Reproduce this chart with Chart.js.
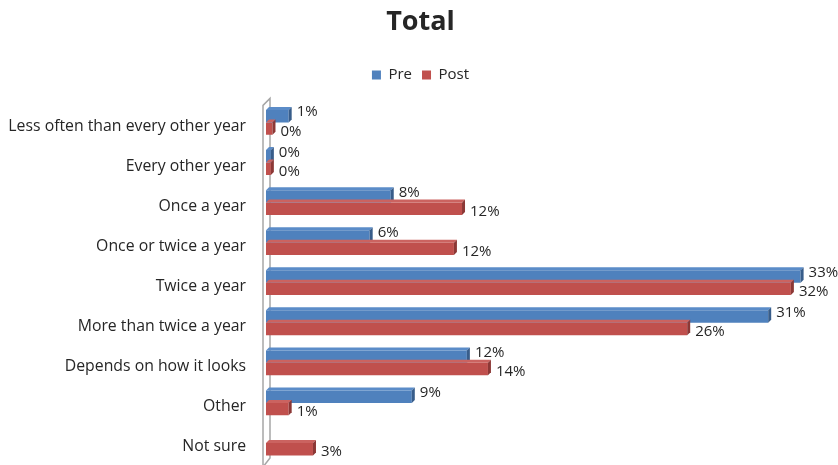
<!DOCTYPE html>
<html>
<head>
    <meta charset="UTF-8">
    <title>Total</title>
    <script src="https://cdn.jsdelivr.net/npm/chart.js"></script>
    <style>
        html, body { margin: 0; padding: 0; background: #fff; overflow: hidden; }
        #wrap { position: relative; width: 838px; height: 465px; }
    </style>
</head>
<body>
    <div id="wrap">
        <canvas id="barChart"></canvas>
    </div>

    <script>
        // chart data
        var categories = [
            'Less often than every other year',
            'Every other year',
            'Once a year',
            'Once or twice a year',
            'Twice a year',
            'More than twice a year',
            'Depends on how it looks',
            'Other',
            'Not sure'
        ];
        var preValues = [1.4, 0.3, 7.7, 6.4, 33.0, 31.0, 12.4, 9.0, 0];
        var postValues = [0.4, 0.3, 12.1, 11.6, 32.4, 26.0, 13.7, 1.4, 2.9];
        var seriesNames = ['Pre', 'Post'];

        var FONT = "'Open Sans', sans-serif";

        // fake 3D depth on the bars + value labels
        var bar3d = {
            id: 'bar3d',
            afterDatasetsDraw: function (chart) {
                var ctx = chart.ctx;
                var dark = ['#385D8A', '#8C3836'];
                var top = ['#5B8CC8', '#CB6360'];
                var d = 3;
                chart.data.datasets.forEach(function (ds, di) {
                    chart.getDatasetMeta(di).data.forEach(function (bar, i) {
                        var v = ds.data[i];
                        if (!v) return;
                        var x0 = bar.base, x1 = bar.x;
                        var y0 = bar.y - bar.height / 2, y1 = bar.y + bar.height / 2;
                        ctx.save();
                        // top face
                        ctx.fillStyle = top[di];
                        ctx.beginPath();
                        ctx.moveTo(x0, y0);
                        ctx.lineTo(x0 + d, y0 - d);
                        ctx.lineTo(x1 + d, y0 - d);
                        ctx.lineTo(x1, y0);
                        ctx.closePath();
                        ctx.fill();
                        // right face
                        ctx.fillStyle = dark[di];
                        ctx.beginPath();
                        ctx.moveTo(x1, y0);
                        ctx.lineTo(x1 + d, y0 - d);
                        ctx.lineTo(x1 + d, y1 - d);
                        ctx.lineTo(x1, y1);
                        ctx.closePath();
                        ctx.fill();
                        // label
                        ctx.fillStyle = '#262626';
                        ctx.font = '15px ' + FONT;
                        ctx.textAlign = 'left';
                        ctx.textBaseline = 'middle';
                        var off = di === 0 ? -4 : 3;
                        ctx.fillText(Math.round(v) + '%', x1 + 8, bar.y + off);
                        ctx.restore();
                    });
                });
            }
        };

        // the grey side wall of the 3D plot
        var wall = {
            id: 'wall',
            beforeDatasetsDraw: function (chart) {
                var a = chart.chartArea;
                var ctx = chart.ctx;
                var x = a.left;
                ctx.save();
                ctx.strokeStyle = '#A6A6A6';
                ctx.lineWidth = 1.5;
                ctx.beginPath();
                ctx.moveTo(x - 3, a.bottom + 4);
                ctx.lineTo(x - 3, a.top + 3);
                ctx.lineTo(x + 4, a.top - 4);
                ctx.lineTo(x + 4, a.bottom - 5);
                ctx.lineTo(x - 3, a.bottom + 4);
                ctx.stroke();
                ctx.restore();
            }
        };

        // more room under the legend
        var legendGap = {
            id: 'legendGap',
            beforeInit: function (chart) {
                var fit = chart.legend.fit;
                chart.legend.fit = function () {
                    fit.bind(chart.legend)();
                    this.height += 10;
                };
            }
        };

        var ctx = document.getElementById('barChart').getContext('2d');
        var chart = new Chart(ctx, {
            type: 'bar',
            data: {
                labels: categories,
                datasets: [{
                    label: seriesNames[0],
                    data: preValues,
                    backgroundColor: '#4F81BD',
                    borderWidth: 0
                }, {
                    label: seriesNames[1],
                    data: postValues,
                    backgroundColor: '#C0504D',
                    borderWidth: 0
                }]
            },
            options: {
                indexAxis: 'y',
                responsive: true,
                maintainAspectRatio: false,
                animation: false,
                devicePixelRatio: 1,
                layout: { padding: { left: 8, right: 5, top: 4, bottom: 2 } },
                datasets: {
                    bar: { categoryPercentage: 0.62, barPercentage: 1.0 }
                },
                scales: {
                    x: {
                        min: 0,
                        max: 35,
                        display: false,
                        grid: { display: false }
                    },
                    y: {
                        grid: { display: false },
                        border: { display: false },
                        afterFit: function (scale) {
                            scale.width = 258;
                            scale.paddingTop = 0;
                            scale.paddingBottom = 0;
                        },
                        ticks: {
                            color: '#262626',
                            padding: 12,
                            labelOffset: 4,
                            font: { family: FONT, size: 15.8 }
                        }
                    }
                },
                plugins: {
                    title: {
                        display: true,
                        text: 'Total',
                        color: '#262626',
                        font: { family: FONT, size: 27, weight: 'bold' },
                        padding: { top: 2, bottom: 19 }
                    },
                    legend: {
                        labels: {
                            boxWidth: 9,
                            boxHeight: 9,
                            color: '#262626',
                            padding: 10,
                            font: { family: FONT, size: 15 }
                        }
                    },
                    tooltip: { enabled: false }
                }
            },
            plugins: [wall, bar3d, legendGap]
        });
    </script>
</body>
</html>
